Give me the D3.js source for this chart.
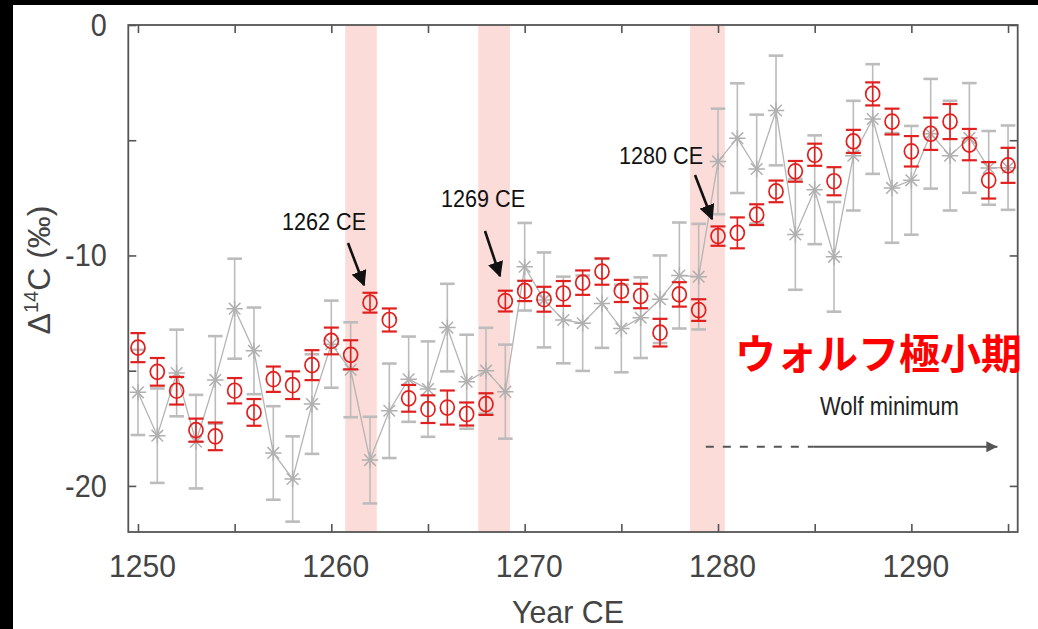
<!DOCTYPE html>
<html><head><meta charset="utf-8">
<script src="https://cdn.jsdelivr.net/npm/d3@7"></script>
<style>
html,body{margin:0;padding:0;background:#000;}
svg{display:block;}
</style></head>
<body>
<svg id="chart" width="1038" height="629"></svg>
<script>
// ---- data ----
const years = [1250,1251,1252,1253,1254,1255,1256,1257,1258,1259,1260,1261,1262,1263,1264,1265,1266,1267,1268,1269,1270,1271,1272,1273,1274,1275,1276,1277,1278,1279,1280,1281,1282,1283,1284,1285,1286,1287,1288,1289,1290,1291,1292,1293,1294,1295];
const redValues = [-14.0,-15.05,-15.87,-17.58,-17.85,-15.87,-16.81,-15.37,-15.63,-14.76,-13.71,-14.31,-12.05,-12.8,-16.2,-16.67,-16.6,-16.88,-16.45,-11.98,-11.54,-11.9,-11.65,-11.18,-10.7,-11.54,-11.76,-13.35,-11.69,-12.37,-9.16,-9.02,-8.23,-7.22,-6.35,-5.63,-6.78,-5.05,-2.99,-4.19,-5.48,-4.72,-4.19,-5.19,-6.74,-6.09];
const redErrors = [0.63,0.6,0.6,0.5,0.6,0.55,0.58,0.55,0.6,0.65,0.58,0.63,0.43,0.5,0.58,0.6,0.74,0.5,0.47,0.45,0.44,0.54,0.54,0.53,0.57,0.48,0.53,0.6,0.53,0.47,0.42,0.67,0.45,0.47,0.45,0.48,0.61,0.5,0.5,0.56,0.66,0.7,0.76,0.68,0.79,0.76];
const greyValues = [-15.94,-17.82,-15.1,-18.08,-15.4,-12.31,-14.14,-18.57,-19.7,-16.45,-13.85,-14.96,-18.88,-16.74,-15.37,-15.8,-13.13,-15.48,-15.0,-15.91,-10.49,-11.93,-12.8,-12.94,-12.08,-13.17,-12.7,-11.9,-10.87,-10.92,-5.92,-4.91,-6.25,-3.71,-9.09,-7.15,-10.06,-5.67,-4.08,-7.07,-6.74,-4.72,-5.67,-4.9,-6.2,-6.19];
const greyErrors = [1.85,2.05,1.88,2.03,1.9,2.17,1.88,2.03,1.85,2.16,1.89,2.06,1.88,2.05,1.85,2.07,1.9,2.04,1.86,2.04,1.9,2.06,1.88,2.07,1.93,1.9,1.75,1.9,2.3,2.29,2.29,2.38,2.36,2.38,2.4,2.36,2.38,2.38,2.38,2.38,2.36,2.38,2.38,2.38,1.6,1.83];
const bandStarts = [1260.72,1267.6,1278.55];
const bandEnds = [1262.35,1269.24,1280.35];
const eventLabels = ["1262 CE","1269 CE","1280 CE"];
const xTickValues = [1250,1255,1260,1265,1270,1275,1280,1285,1290,1295];
const xTickLabels = ["1250","","1260","","1270","","1280","","1290",""];
const yTickValues = [0,-5,-10,-15,-20];
const yTickLabels = ["0","","-10","","-20"];
const xDomain = [1249.5,1295.5];
const yDomain = [-22,0];
const wolfArrowYears = [1279.37,1284.95,1294.45];
const wolfArrowValue = -18.3;

// ---- layout ----
const svg = d3.select("#chart");
const L = 128.3, R = 1017.7, T = 25, B = 532;
svg.append("rect").attr("x",13).attr("y",5).attr("width",1025).attr("height",624).attr("fill","#fff");

const x = d3.scaleLinear().domain(xDomain).range([L,R]);
const y = d3.scaleLinear().domain(yDomain).range([B,T]);

// bands
svg.append("g").selectAll("rect").data(bandStarts).join("rect")
  .attr("x",(d)=>x(d)).attr("width",(d,i)=>x(bandEnds[i])-x(d))
  .attr("y",T).attr("height",B-T).attr("fill","#fbdcd8");

// grey series
const gG = svg.append("g");
const greyCol = "#bcbcbc";
gG.append("path").datum(years)
  .attr("d",d3.line().x(d=>x(d)).y((d,i)=>y(greyValues[i])))
  .attr("fill","none").attr("stroke","#b4b4b4").attr("stroke-width",1.3);
years.forEach((yr,i)=>{
  const cx = x(yr), v = greyValues[i], e = greyErrors[i];
  const y1 = y(v+e), y2 = y(v-e);
  gG.append("line").attr("x1",cx).attr("x2",cx).attr("y1",y1).attr("y2",y2).attr("stroke",greyCol).attr("stroke-width",1.6);
  [y1,y2].forEach(yy=>gG.append("line").attr("x1",cx-7.3).attr("x2",cx+7.3).attr("y1",yy).attr("y2",yy).attr("stroke",greyCol).attr("stroke-width",2.6));
  const cy = y(v), s = 8.2, s2 = 5.8;
  const p = `M${cx-s},${cy}H${cx+s}M${cx},${cy-s}V${cy+s}M${cx-s2},${cy-s2}L${cx+s2},${cy+s2}M${cx-s2},${cy+s2}L${cx+s2},${cy-s2}`;
  gG.append("path").attr("d",p).attr("stroke","#b0b0b0").attr("stroke-width",1.5).attr("fill","none");
});

// red series
const gR = svg.append("g");
const redCol = "#e0201e";
years.forEach((yr,i)=>{
  const cx = x(yr), v = redValues[i], e = redErrors[i];
  const y1 = y(v+e), y2 = y(v-e);
  gR.append("line").attr("x1",cx).attr("x2",cx).attr("y1",y1).attr("y2",y2).attr("stroke",redCol).attr("stroke-width",1.6);
  [y1,y2].forEach(yy=>gR.append("line").attr("x1",cx-7.5).attr("x2",cx+7.5).attr("y1",yy).attr("y2",yy).attr("stroke",redCol).attr("stroke-width",2.2));
  gR.append("ellipse").attr("cx",cx).attr("cy",y(v)).attr("rx",7).attr("ry",7.5).attr("fill","none").attr("stroke",redCol).attr("stroke-width",1.7);
});

// axes
const axCol = "#555";
const fontTick = "'Liberation Sans', Arial, sans-serif";
function styleAxis(g){
  g.select(".domain").remove();
  g.selectAll(".tick line").attr("stroke",axCol).attr("stroke-width",1.6);
  g.selectAll("text").attr("fill","#444").attr("font-size",32).attr("font-family",fontTick);
}
const xb = svg.append("g").attr("transform",`translate(0,${B})`)
  .call(d3.axisBottom(x).tickValues(xTickValues).tickFormat((d,i)=>xTickLabels[i]).tickSize(-8).tickPadding(22));
styleAxis(xb);
xb.selectAll("text").attr("transform","translate(4,0) scale(0.94,1)").attr("dy","0.71em");
const xt = svg.append("g").attr("transform",`translate(0,${T})`)
  .call(d3.axisTop(x).tickValues(xTickValues).tickFormat("").tickSize(-8));
styleAxis(xt);
const yl = svg.append("g").attr("transform",`translate(${L},0)`)
  .call(d3.axisLeft(y).tickValues(yTickValues).tickFormat((d,i)=>yTickLabels[i]).tickSize(-8).tickPadding(24));
styleAxis(yl);
yl.selectAll("text").attr("transform","scale(0.9,1)");
const yr = svg.append("g").attr("transform",`translate(${R},0)`)
  .call(d3.axisRight(y).tickValues(yTickValues).tickFormat("").tickSize(-8));
styleAxis(yr);
svg.append("rect").attr("x",L).attr("y",T).attr("width",R-L).attr("height",B-T)
  .attr("fill","none").attr("stroke",axCol).attr("stroke-width",1.8);

// axis titles
svg.append("text").attr("x",568).attr("y",623).attr("text-anchor","middle")
  .attr("font-family",fontTick).attr("font-size",32).attr("fill","#444")
  .attr("transform","translate(568,0) scale(0.95,1) translate(-568,0)")
  .text("Year CE");
const yt = svg.append("text").attr("transform","translate(50,270) rotate(-90)")
  .attr("text-anchor","middle").attr("font-family",fontTick).attr("font-size",32).attr("fill","#444");
yt.append("tspan").text("Δ");
yt.append("tspan").attr("font-size",20).attr("dy",-12).text("14");
yt.append("tspan").attr("dy",12).text("C (‰)");

// event annotations
const defs = svg.append("defs");
defs.append("marker").attr("id","ah").attr("viewBox","0 0 10 10").attr("refX",9).attr("refY",5)
  .attr("markerWidth",6).attr("markerHeight",6).attr("orient","auto").attr("markerUnits","strokeWidth")
  .append("path").attr("d","M0,0L10,5L0,10Z").attr("fill","#111");
const labelPos = [[282,230],[441,207],[619,164]];
const arrowPos = [[348,243,364,285],[485,231,500,276],[695,175,712,219]];
eventLabels.forEach((t,i)=>{
  svg.append("text").attr("x",0).attr("y",0)
    .attr("transform",`translate(${labelPos[i][0]},${labelPos[i][1]}) scale(0.9,1)`)
    .attr("font-family",fontTick).attr("font-size",24).attr("fill","#111").text(t);
  const a = arrowPos[i];
  svg.append("line").attr("x1",a[0]).attr("y1",a[1]).attr("x2",a[2]).attr("y2",a[3])
    .attr("stroke","#111").attr("stroke-width",2.6).attr("marker-end","url(#ah)");
});

// Japanese label
svg.append("text").attr("x",735).attr("y",369)
  .attr("font-family","'Noto Sans CJK JP', sans-serif").attr("font-weight",700)
  .attr("font-size",41).attr("fill","#ff0000").text("ウォルフ極小期");

// Wolf minimum
svg.append("text").attr("x",0).attr("y",0)
  .attr("transform","translate(820,415) scale(0.88,1)")
  .attr("font-family",fontTick).attr("font-size",25).attr("fill","#222").text("Wolf minimum");
defs.append("marker").attr("id","ah2").attr("viewBox","0 0 10 10").attr("refX",10).attr("refY",5)
  .attr("markerWidth",24).attr("markerHeight",11).attr("orient","auto").attr("markerUnits","userSpaceOnUse")
  .append("path").attr("d","M0,0L10,5L0,10Z").attr("fill","#555");
const wy = y(wolfArrowValue);
svg.append("line").attr("x1",x(wolfArrowYears[0])).attr("x2",x(wolfArrowYears[1])).attr("y1",wy).attr("y2",wy)
  .attr("stroke","#555").attr("stroke-width",2).attr("stroke-dasharray","8,9");
svg.append("line").attr("x1",x(wolfArrowYears[1])).attr("x2",x(wolfArrowYears[2])).attr("y1",wy).attr("y2",wy)
  .attr("stroke","#555").attr("stroke-width",2).attr("marker-end","url(#ah2)");
</script>
</body></html>
